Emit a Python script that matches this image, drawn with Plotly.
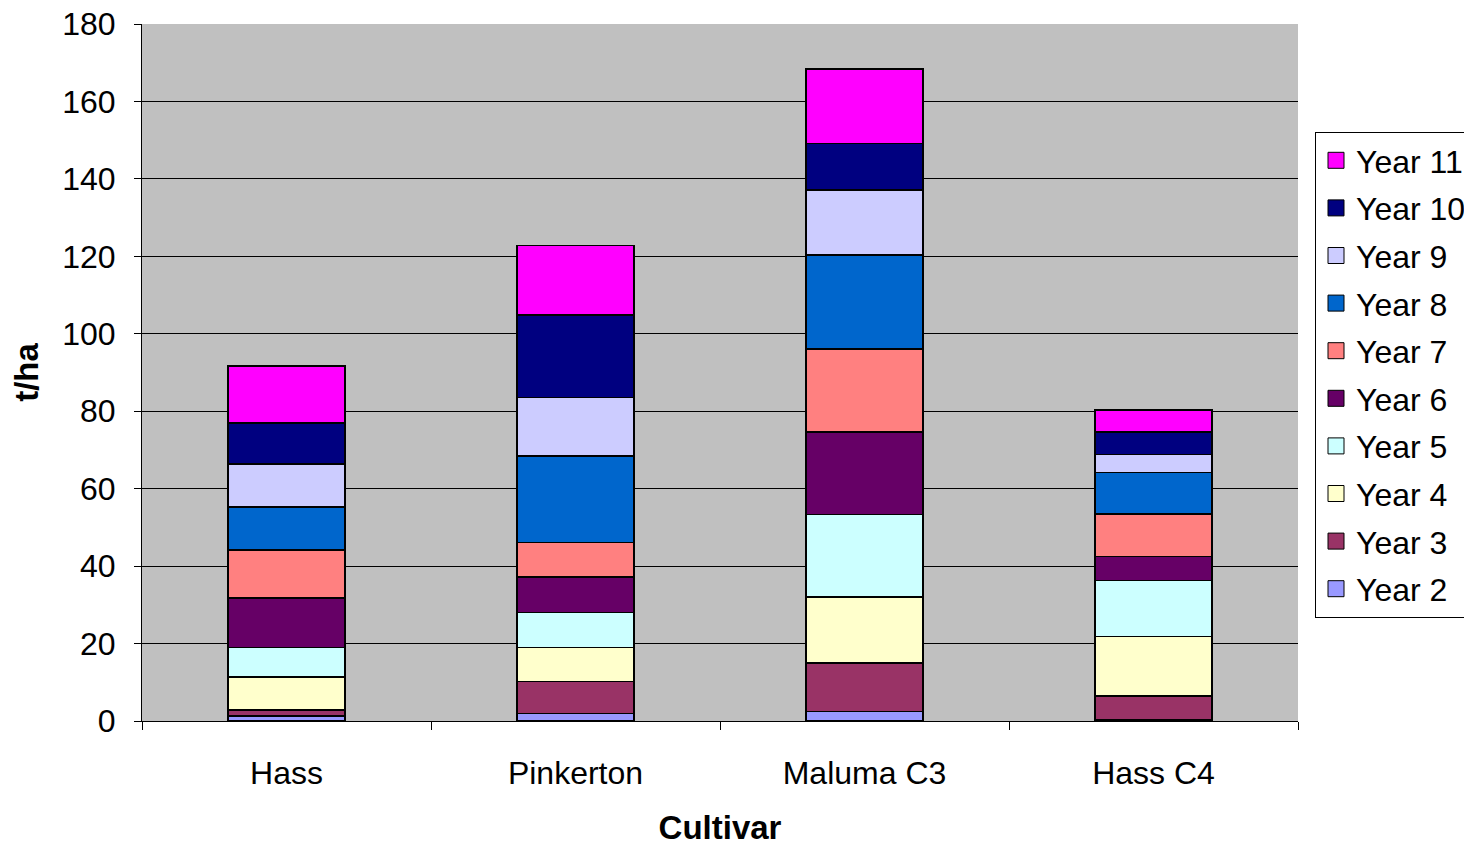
import plotly.graph_objects as go

cultivars = ["Hass", "Pinkerton", "Maluma C3", "Hass C4"]
years = ["Year 2", "Year 3", "Year 4", "Year 5", "Year 6", "Year 7", "Year 8", "Year 9", "Year 10", "Year 11"]

year2 = [1.3, 2.0, 2.5, 0.3]
year3 = [1.5, 8.2, 12.5, 6.1]
year4 = [8.6, 8.8, 17.0, 15.4]
year5 = [7.6, 9.0, 21.3, 14.5]
year6 = [12.8, 9.2, 21.3, 6.2]
year7 = [12.3, 8.9, 21.5, 10.9]
year8 = [11.2, 22.3, 24.3, 10.8]
year9 = [11.1, 15.1, 16.7, 4.6]
year10 = [10.6, 21.3, 12.1, 5.8]
year11 = [14.7, 18.0, 19.2, 5.7]

series = [year2, year3, year4, year5, year6, year7, year8, year9, year10, year11]
colors = ["#9999FF", "#993366", "#FFFFCC", "#CCFFFF", "#660066",
          "#FF8080", "#0066CC", "#CCCCFF", "#000080", "#FF00FF"]

FONT = "Liberation Sans, Arial, sans-serif"

fig = go.Figure()
for i, (name, vals, col) in enumerate(zip(years, series, colors)):
    fig.add_trace(go.Bar(
        name=name, x=cultivars, y=vals, legendgroup=name,
        showlegend=False,
        marker=dict(color=col, line=dict(color="black", width=1.5)),
    ))
# legend entries with larger square swatches
for i, (name, col) in enumerate(zip(years, colors)):
    fig.add_trace(go.Scatter(
        name=name, x=[None], y=[None], mode="markers", legendgroup=name,
        legendrank=1000 - i, showlegend=True, hoverinfo="skip",
        marker=dict(symbol="square", size=16, color=col,
                    line=dict(color="black", width=1)),
    ))

W, H = 1464, 838
fig.update_layout(
    barmode="stack",
    bargap=0.595,
    width=W, height=H,
    margin=dict(l=134, r=174, t=16, b=125, autoexpand=False),
    paper_bgcolor="white",
    plot_bgcolor="#C0C0C0",
    font=dict(family=FONT, size=32, color="black"),
    showlegend=True,
    legend=dict(
        traceorder="grouped",
        tracegroupgap=3,
        itemsizing="trace",
        xref="container", yref="container",
        x=1307 / W, xanchor="left",
        y=(H - 124) / H, yanchor="top",
        maxheight=700,
        bordercolor="black", borderwidth=1,
        bgcolor="white",
        font=dict(family=FONT, size=32, color="black"),
        itemwidth=30,
    ),
    xaxis=dict(
        title=dict(text="<b>Cultivar</b>", font=dict(family=FONT, size=33), standoff=27),
        showline=True, linecolor="black", linewidth=1,
        ticks="outside", tickson="boundaries", ticklen=8, tickcolor="black",
        tickfont=dict(family=FONT, size=32),
        ticklabelstandoff=24,
        showgrid=False, automargin=False,
    ),
    yaxis=dict(
        title=dict(text="<b>t/ha</b>", font=dict(family=FONT, size=33), standoff=15),
        range=[0, 180], dtick=20,
        showline=True, linecolor="black", linewidth=1,
        ticks="outside", ticklen=7, tickcolor="black",
        tickfont=dict(family=FONT, size=32),
        ticklabelstandoff=12, ticklabeloverflow="allow",
        showgrid=True, gridcolor="black", gridwidth=1,
        zeroline=False, automargin=False,
    ),
)

fig.write_html("out.html")
